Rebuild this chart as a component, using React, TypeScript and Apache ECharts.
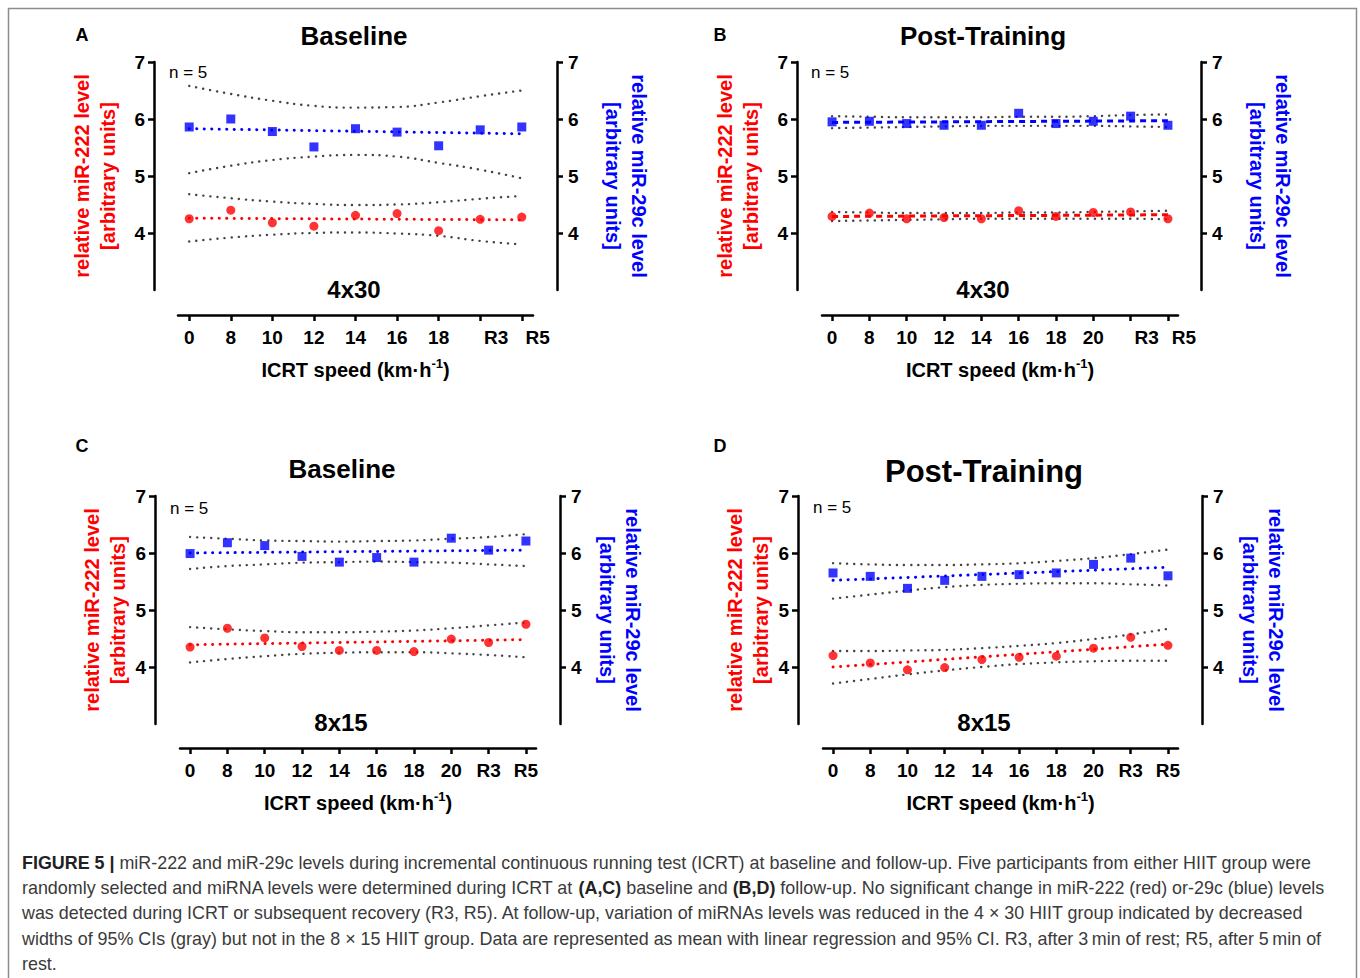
import React, { useEffect, useRef } from 'react';
import * as echarts from 'echarts';

// ---------- data ----------
const catsA = ['0', '8', '10', '12', '14', '16', '18', 'R3', 'R5'];
const catsB = ['0', '8', '10', '12', '14', '16', '18', '20', 'R3', 'R5'];
const catsC = ['0', '8', '10', '12', '14', '16', '18', '20', 'R3', 'R5'];
const catsD = ['0', '8', '10', '12', '14', '16', '18', '20', 'R3', 'R5'];

const yTicks = [4, 5, 6, 7];

// Panel A (4x30 baseline)
const redA = [4.25, 4.40, 4.18, 4.12, 4.31, 4.34, 4.04, 4.24, 4.28];
const blueA = [5.86, 6.00, 5.78, 5.51, 5.83, 5.77, 5.53, 5.81, 5.86];
const redFitA = [4.26, 4.23];
const blueFitA = [5.83, 5.74];
const redUpA = [4.68, 4.61, 4.55, 4.51, 4.49, 4.50, 4.54, 4.60, 4.65];
const redLoA = [3.85, 3.92, 3.97, 4.00, 4.01, 3.99, 3.95, 3.86, 3.80];
const blueUpA = [6.58, 6.44, 6.32, 6.23, 6.20, 6.21, 6.29, 6.40, 6.50];
const blueLoA = [5.05, 5.18, 5.28, 5.34, 5.37, 5.34, 5.23, 5.11, 4.96];

// Panel B (4x30 post-training)
const redB = [4.29, 4.35, 4.25, 4.27, 4.25, 4.39, 4.29, 4.36, 4.37, 4.25];
const blueB = [5.95, 5.96, 5.92, 5.89, 5.89, 6.10, 5.92, 5.96, 6.05, 5.89];
const redFitB = [4.29, 4.32];
const blueFitB = [5.94, 5.97];
const redUpB = [4.37, 4.36, 4.35, 4.35, 4.35, 4.36, 4.36, 4.37, 4.38, 4.39];
const redLoB = [4.21, 4.22, 4.23, 4.24, 4.25, 4.25, 4.25, 4.25, 4.25, 4.24];
const blueUpB = [6.05, 6.04, 6.03, 6.03, 6.03, 6.04, 6.04, 6.05, 6.07, 6.08];
const blueLoB = [5.84, 5.85, 5.86, 5.87, 5.88, 5.88, 5.88, 5.88, 5.87, 5.86];

// Panel C (8x15 baseline)
const redC = [4.35, 4.68, 4.51, 4.36, 4.29, 4.29, 4.27, 4.49, 4.43, 4.75];
const blueC = [5.99, 6.18, 6.13, 5.94, 5.84, 5.92, 5.84, 6.26, 6.05, 6.21];
const redFitC = [4.39, 4.48];
const blueFitC = [6.00, 6.05];
const redUpC = [4.70, 4.66, 4.63, 4.61, 4.61, 4.62, 4.64, 4.68, 4.73, 4.78];
const redLoC = [4.08, 4.14, 4.19, 4.23, 4.25, 4.26, 4.26, 4.24, 4.21, 4.17];
const blueUpC = [6.28, 6.25, 6.22, 6.21, 6.20, 6.21, 6.22, 6.25, 6.28, 6.33];
const blueLoC = [5.72, 5.77, 5.80, 5.83, 5.84, 5.85, 5.84, 5.83, 5.80, 5.77];

// Panel D (8x15 post-training)
const redD = [4.20, 4.07, 3.95, 3.99, 4.13, 4.17, 4.19, 4.33, 4.52, 4.38];
const blueD = [5.65, 5.59, 5.38, 5.52, 5.59, 5.62, 5.65, 5.80, 5.91, 5.60];
const redFitD = [4.00, 4.40];
const blueFitD = [5.52, 5.75];
const redUpD = [4.28, 4.28, 4.29, 4.30, 4.33, 4.37, 4.42, 4.49, 4.57, 4.67];
const redLoD = [3.71, 3.79, 3.87, 3.94, 4.00, 4.05, 4.08, 4.10, 4.11, 4.11];
const blueUpD = [5.82, 5.80, 5.79, 5.79, 5.80, 5.82, 5.86, 5.91, 5.98, 6.06];
const blueLoD = [5.20, 5.27, 5.34, 5.40, 5.44, 5.46, 5.47, 5.47, 5.45, 5.43];

const captionLines = [
  '{b|FIGURE 5 |} miR-222 and miR-29c levels during incremental continuous running test (ICRT) at baseline and follow-up. Five participants from either HIIT group were',
  'randomly selected and miRNA levels were determined during ICRT at {b|(A,C)} baseline and {b|(B,D)} follow-up. No significant change in miR-222 (red) or-29c (blue) levels',
  'was detected during ICRT or subsequent recovery (R3, R5). At follow-up, variation of miRNAs levels was reduced in the 4 \u00d7 30 HIIT group indicated by decreased',
  'widths of 95% CIs (gray) but not in the 8 \u00d7 15 HIIT group. Data are represented as mean with linear regression and 95% CI. R3, after 3\u2009min of rest; R5, after 5\u2009min of',
  'rest.',
];

// ---------- styling / layout ----------
const FONT = '"Liberation Sans", Arial, Helvetica, sans-serif';
const RED = '#ff0000';
const BLUE = '#0000ff';
const GRAY = '#444444';
const CAPTION_SIZE = 17.9;

const panels = [
  {
    letter: 'A', title: 'Baseline', titleSize: 26, group: '4x30', cats: catsA,
    red: redA, blue: blueA, redFit: redFitA, blueFit: blueFitA,
    redUp: redUpA, redLo: redLoA, blueUp: blueUpA, blueLo: blueLoA,
    dashed: false, shifted: ['R3', 'R5'],
    L: { left: 178, top: 62, width: 355, height: 228, yOffL: 24, yOffR: 24, xOff: 25, gapL: 33, gapR: 43,
      titleX: 354, titleY: 36, letterX: 82, letterY: 35, nX: 169, nY: 72, groupX: 354, groupY: 289 },
  },
  {
    letter: 'B', title: 'Post-Training', titleSize: 26, group: '4x30', cats: catsB,
    red: redB, blue: blueB, redFit: redFitB, blueFit: blueFitB,
    redUp: redUpB, redLo: redLoB, blueUp: blueUpB, blueLo: blueLoB,
    dashed: true, shifted: ['R3', 'R5'],
    L: { left: 822, top: 62, width: 356, height: 228, yOffL: 25, yOffR: 23, xOff: 25, gapL: 33, gapR: 43,
      titleX: 983, titleY: 36, letterX: 720, letterY: 35, nX: 811, nY: 72, groupX: 983, groupY: 289 },
  },
  {
    letter: 'C', title: 'Baseline', titleSize: 26, group: '8x15', cats: catsC,
    red: redC, blue: blueC, redFit: redFitC, blueFit: blueFitC,
    redUp: redUpC, redLo: redLoC, blueUp: blueUpC, blueLo: blueLoC,
    dashed: false, shifted: [],
    L: { left: 180, top: 496, width: 356, height: 228, yOffL: 25, yOffR: 24, xOff: 24, gapL: 24, gapR: 34,
      titleX: 342, titleY: 469, letterX: 82, letterY: 446, nX: 170, nY: 508, groupX: 341, groupY: 722 },
  },
  {
    letter: 'D', title: 'Post-Training', titleSize: 31, group: '8x15', cats: catsD,
    red: redD, blue: blueD, redFit: redFitD, blueFit: blueFitD,
    redUp: redUpD, redLo: redLoD, blueUp: blueUpD, blueLo: blueLoD,
    dashed: false, shifted: [],
    L: { left: 823, top: 496, width: 355, height: 228, yOffL: 25, yOffR: 24, xOff: 24, gapL: 24, gapR: 35,
      titleX: 984, titleY: 471, letterX: 720, letterY: 446, nX: 813, nY: 507, groupX: 984, groupY: 722 },
  },
];

const pts = (arr: number[]) => arr.map((v, i) => [i, v]);
const fitPts = (ab: number[], n: number) => [[0, ab[0]], [n - 1, ab[1]]];

function buildOption() {
  const grids: any[] = [];
  const xAxes: any[] = [];
  const yAxes: any[] = [];
  const series: any[] = [];
  const graphics: any[] = [];

  const tickLabelStyle = { fontSize: 19, fontWeight: 'bold', color: '#000', fontFamily: FONT };
  const axisLineStyle = { color: '#000', width: 2.5 };

  panels.forEach((p, k) => {
    const L = p.L;
    const n = p.cats.length;
    const idx = p.cats.map((_, i) => i);
    grids.push({ left: L.left, top: L.top, width: L.width, height: L.height, containLabel: false, outerBoundsMode: 'none' });

    xAxes.push({
      gridIndex: k,
      type: 'value',
      min: -0.27,
      max: n - 1 + 0.27,
      position: 'bottom',
      offset: L.xOff,
      axisLine: { show: true, onZero: false, lineStyle: axisLineStyle },
      axisTick: { show: true, customValues: idx, length: 6, lineStyle: axisLineStyle },
      axisLabel: {
        show: true,
        customValues: idx,
        margin: 13,
        ...tickLabelStyle,
        formatter: (v: number) => {
          const c = p.cats[Math.round(v)] ?? '';
          return p.shifted.indexOf(c) >= 0 ? '{s|' + c + '}' : c;
        },
        rich: { s: { ...tickLabelStyle, padding: [0, 0, 0, 32] } },
      },
      splitLine: { show: false },
      name: '{n|ICRT speed (km\u00b7h}{s|-1}{n|)}',
      nameLocation: 'middle',
      nameGap: 42,
      nameTextStyle: {
        rich: {
          n: { fontSize: 20, fontWeight: 'bold', color: '#000', fontFamily: FONT, lineHeight: 26 },
          s: { fontSize: 13, fontWeight: 'bold', color: '#000', fontFamily: FONT, verticalAlign: 'top', lineHeight: 26, padding: [0, 0, 8, 0] },
        },
      },
    });

    const yBase = {
      gridIndex: k,
      type: 'value',
      min: 3,
      max: 7,
      axisLine: { show: true, onZero: false, lineStyle: axisLineStyle },
      axisTick: { show: true, customValues: yTicks, length: 6, lineStyle: axisLineStyle },
      splitLine: { show: false },
      nameLocation: 'middle',
    };
    yAxes.push({
      ...yBase,
      position: 'left',
      offset: L.yOffL,
      axisLabel: { show: true, customValues: yTicks, margin: 9, ...tickLabelStyle },
      name: 'relative miR-222 level\n[arbitrary units]',
      nameRotate: 90,
      nameGap: L.gapL,
      nameTextStyle: { color: RED, fontSize: 20, fontWeight: 'bold', fontFamily: FONT, lineHeight: 26 },
    });
    yAxes.push({
      ...yBase,
      position: 'right',
      offset: L.yOffR,
      axisLabel: { show: true, customValues: yTicks, margin: 11, ...tickLabelStyle },
      name: 'relative miR-29c level\n[arbitrary units]',
      nameRotate: -90,
      nameGap: L.gapR,
      nameTextStyle: { color: BLUE, fontSize: 20, fontWeight: 'bold', fontFamily: FONT, lineHeight: 26 },
    });

    const yl = 2 * k;
    const yr = 2 * k + 1;
    const ciStyle = { color: GRAY, width: 2.4, type: [0.1, 7], cap: 'round' };
    [p.redUp, p.redLo].forEach((arr) =>
      series.push({ type: 'line', xAxisIndex: k, yAxisIndex: yl, data: pts(arr), smooth: true, symbol: 'none', silent: true, lineStyle: ciStyle, z: 1 })
    );
    [p.blueUp, p.blueLo].forEach((arr) =>
      series.push({ type: 'line', xAxisIndex: k, yAxisIndex: yr, data: pts(arr), smooth: true, symbol: 'none', silent: true, lineStyle: ciStyle, z: 1 })
    );
    const fitType = p.dashed ? [6, 5] : [0.1, 7.4];
    const fitCap = p.dashed ? 'butt' : 'round';
    series.push({ type: 'line', xAxisIndex: k, yAxisIndex: yl, data: fitPts(p.redFit, n), symbol: 'none', silent: true, lineStyle: { color: RED, width: 3, type: fitType, cap: fitCap }, z: 2 });
    series.push({ type: 'line', xAxisIndex: k, yAxisIndex: yr, data: fitPts(p.blueFit, n), symbol: 'none', silent: true, lineStyle: { color: BLUE, width: 3, type: fitType, cap: fitCap }, z: 2 });
    series.push({ type: 'scatter', xAxisIndex: k, yAxisIndex: yl, data: pts(p.red), symbol: 'circle', symbolSize: 9, itemStyle: { color: RED }, z: 3 });
    series.push({ type: 'scatter', xAxisIndex: k, yAxisIndex: yr, data: pts(p.blue), symbol: 'rect', symbolSize: 9, itemStyle: { color: BLUE }, z: 3 });

    graphics.push({ type: 'text', x: L.letterX, y: L.letterY, style: { text: p.letter, fontSize: 18, fontWeight: 'bold', fontFamily: FONT, fill: '#000', align: 'center', verticalAlign: 'middle' } });
    graphics.push({ type: 'text', x: L.titleX, y: L.titleY, style: { text: p.title, fontSize: p.titleSize, fontWeight: 'bold', fontFamily: FONT, fill: '#000', align: 'center', verticalAlign: 'middle' } });
    graphics.push({ type: 'text', x: L.nX, y: L.nY, style: { text: 'n = 5', fontSize: 17, fontFamily: FONT, fill: '#000', align: 'left', verticalAlign: 'middle' } });
    graphics.push({ type: 'text', x: L.groupX, y: L.groupY, style: { text: p.group, fontSize: 24, fontWeight: 'bold', fontFamily: FONT, fill: '#000', align: 'center', verticalAlign: 'middle' } });
  });

  graphics.push({ type: 'rect', silent: true, shape: { x: 8.5, y: 8.5, width: 1348, height: 990 }, style: { fill: 'none', stroke: '#8c8c8c', lineWidth: 1.5 } });

  captionLines.forEach((t, i) => {
    graphics.push({
      type: 'text',
      x: 22,
      y: 863 + i * 25.2,
      style: {
        text: t,
        fontSize: CAPTION_SIZE,
        fontFamily: FONT,
        fill: '#3a3a3a',
        align: 'left',
        verticalAlign: 'middle',
        rich: { b: { fontSize: CAPTION_SIZE, fontWeight: 'bold', fontFamily: FONT, fill: '#222' } },
      },
    });
  });

  return {
    animation: false,
    backgroundColor: '#ffffff',
    grid: grids,
    xAxis: xAxes,
    yAxis: yAxes,
    series,
    graphic: { elements: graphics },
  };
}

export default function App() {
  const ref = useRef<HTMLDivElement>(null);
  useEffect(() => {
    document.body.style.margin = '0';
    document.body.style.overflow = 'hidden';
    const chart = echarts.init(ref.current as HTMLDivElement, null, { renderer: 'svg' });
    chart.setOption(buildOption() as any);
    return () => chart.dispose();
  }, []);
  return <div ref={ref} style={{ width: 1360, height: 978 }} />;
}
